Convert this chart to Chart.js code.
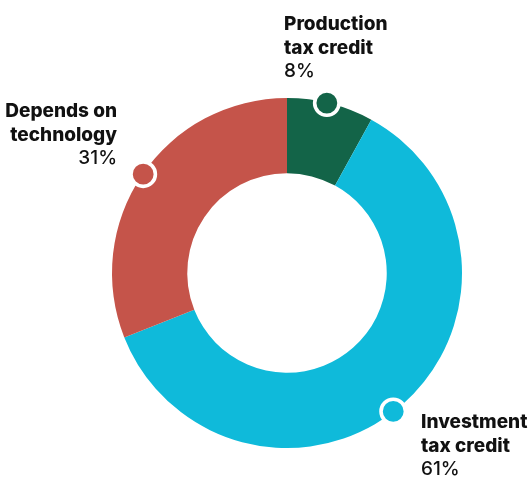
<!DOCTYPE html>
<html>
<head>
<meta charset="utf-8">
<script src="https://cdn.jsdelivr.net/npm/chart.js@4"></script>
<style>
  html, body { margin: 0; padding: 0; background: #fff; }
  #wrap { width: 529px; height: 479px; position: relative; }
</style>
</head>
<body>
<div id="wrap"><canvas id="creditChart"></canvas></div>
<script>
// Share of credits by type
const categories = ['Production tax credit', 'Investment tax credit', 'Depends on technology'];
const shares = [8, 61, 31];
const colors = ['#136448', '#0fbada', '#c5544a'];

// Label lines drawn next to each slice (title lines + percent)
const labelLines = [
    ['Production', 'tax credit'],
    ['Investment', 'tax credit'],
    ['Depends on', 'technology']
];
const labelSpots = [
    { x: 284, y: 30, align: 'left' },
    { x: 421, y: 428, align: 'left' },
    { x: 117, y: 117, align: 'right' }
];
// small nudge (degrees) of each rim dot away from the slice middle
const dotNudge = [-1.2, 3.9, 0.3];

// Dots sitting on the outer rim of each slice, plus the text labels
const sliceLabels = {
    id: 'sliceLabels',
    afterDatasetsDraw(chart) {
        const ctx = chart.ctx;
        const arcs = chart.getDatasetMeta(0).data;
        ctx.save();
        arcs.forEach((arc, i) => {
            const p = arc.getProps(['x', 'y', 'startAngle', 'endAngle', 'outerRadius'], true);
            const mid = (p.startAngle + p.endAngle) / 2 + dotNudge[i] * Math.PI / 180;
            const r = p.outerRadius - 0.5;
            const cx = p.x + Math.cos(mid) * r;
            const cy = p.y + Math.sin(mid) * r;
            ctx.beginPath();
            ctx.arc(cx, cy, 12.2, 0, Math.PI * 2);
            ctx.fillStyle = colors[i];
            ctx.fill();
            ctx.lineWidth = 3.6;
            ctx.strokeStyle = '#fff';
            ctx.stroke();
        });

        ctx.fillStyle = '#111';
        ctx.textBaseline = 'alphabetic';
        labelSpots.forEach((spot, i) => {
            ctx.textAlign = spot.align;
            ctx.font = '800 19px Inter';
            labelLines[i].forEach((line, j) => {
                ctx.fillText(line, spot.x, spot.y + j * 23.5);
            });
            ctx.font = '500 19px Inter';
            ctx.fillText(shares[i] + '%', spot.x, spot.y + 2 * 23.5);
        });
        ctx.restore();
    }
};

const ctx = document.getElementById('creditChart').getContext('2d');
new Chart(ctx, {
    type: 'doughnut',
    data: {
        labels: categories,
        datasets: [{
            data: shares,
            backgroundColor: colors,
            borderWidth: 0,
            hoverOffset: 0
        }]
    },
    options: {
        responsive: true,
        maintainAspectRatio: false,
        animation: false,
        cutout: '57%',
        layout: {
            padding: { left: 112, right: 67, top: 98, bottom: 31 }
        },
        plugins: {
            legend: { display: false },
            tooltip: { enabled: false }
        }
    },
    plugins: [sliceLabels]
});
</script>
</body>
</html>
